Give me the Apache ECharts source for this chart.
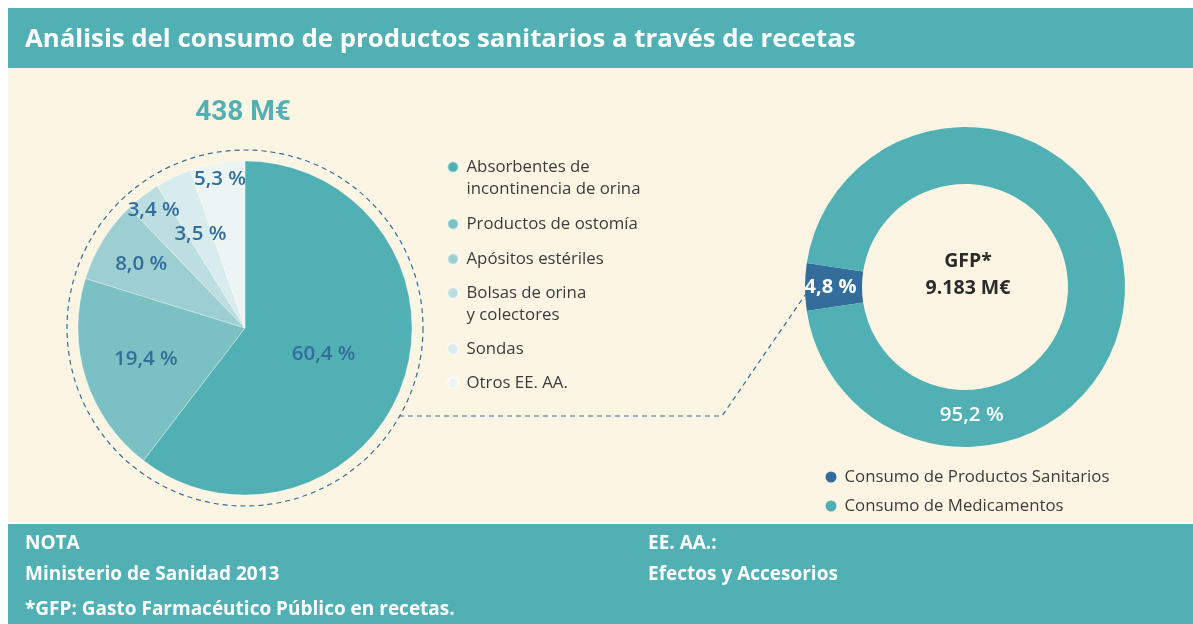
<!DOCTYPE html>
<html>
<head>
<meta charset="utf-8">
<script src="https://cdn.jsdelivr.net/npm/echarts@6/dist/echarts.min.js"></script>
<style>
html,body{margin:0;padding:0;background:#fff;}
#chart{width:1193px;height:624px;}
</style>
</head>
<body>
<div id="chart"></div>
<script>
// ---- DATA ----
const chartTitle = 'Análisis del consumo de productos sanitarios a través de recetas';
const pieCategories = ['Absorbentes de\nincontinencia de orina', 'Productos de ostomía', 'Apósitos estériles', 'Bolsas de orina\ny colectores', 'Sondas', 'Otros EE. AA.'];
const pieValues = [60.4, 19.4, 8.0, 3.4, 3.5, 5.3];
const pieTotal = '438 M€';
const donutCategories = ['Consumo de Productos Sanitarios', 'Consumo de Medicamentos'];
const donutValues = [4.8, 95.2];
const donutCenterLines = ['GFP*', '9.183 M€'];
const notesLeft = ['NOTA', 'Ministerio de Sanidad 2013', '*GFP: Gasto Farmacéutico Público en recetas.'];
const notesRight = ['EE. AA.:', 'Efectos y Accesorios'];

// ---- STYLE / LAYOUT ----
const FONT = '"Open Sans", Roboto, sans-serif';
const FONT2 = 'Roboto, sans-serif';
const TEAL = '#50b0b3';
const DARKBLUE = '#336d9c';
const CREAM = '#fdf5e4';
const pieColors = ['#50b0b3', '#7bc1c3', '#9dcfd2', '#bddee0', '#d8ecee', '#edf5f4'];
const donutColors = [DARKBLUE, TEAL];
const PIE_C = [245, 328], PIE_R = 167, RING_R = 178;
const DON_C = [965, 287], DON_R = [103, 160];
const pieLabelRadius = [80, 101, 119, 146, 101, 148];
const legendRowY = [165, 222, 257, 291, 347, 381];
const fmt = p => p.value.toFixed(1).replace('.', ',') + ' %';
const LBL = 20.5;

const series = [];
series.push({
  type: 'pie', name: 'productos', center: PIE_C, radius: [0, PIE_R],
  startAngle: 90, clockwise: true, silent: true,
  itemStyle: { borderColor: 'rgba(255,255,255,0.5)', borderWidth: 0.6 },
  label: { show: false }, labelLine: { show: false },
  data: pieCategories.map((n, i) => ({ name: n, value: pieValues[i], itemStyle: { color: pieColors[i] } }))
});
series.push({
  type: 'pie', name: 'gfp', center: DON_C, radius: DON_R,
  startAngle: 180 + donutValues[0] / 100 * 360 / 2, clockwise: true, silent: true,
  label: { show: false, position: 'inside', formatter: fmt, color: '#fff', fontSize: 20, fontWeight: 'bold', fontFamily: FONT },
  labelLine: { show: false },
  data: donutCategories.map((n, i) => ({ name: n, value: donutValues[i], itemStyle: { color: donutColors[i] }, label: { show: i === 0 } }))
});
// label rings for the left pie
[...new Set(pieLabelRadius)].forEach(r => {
  series.push({
    type: 'pie', center: PIE_C, radius: [r - 8, r + 8], startAngle: 90, clockwise: true, silent: true,
    itemStyle: { color: 'transparent' }, labelLine: { show: false },
    label: { position: 'inside', formatter: fmt, color: DARKBLUE, fontSize: LBL, fontWeight: 600, fontFamily: FONT },
    data: pieCategories.map((n, i) => ({ name: n, value: pieValues[i], label: { show: pieLabelRadius[i] === r } }))
  });
});
// label for the large donut slice (placed near the bottom)
series.push({
  type: 'pie', center: DON_C, radius: [DON_R[0] - 6, DON_R[1] - 6], startAngle: 93, clockwise: true, silent: true,
  itemStyle: { color: 'transparent' }, labelLine: { show: false },
  label: { show: true, position: 'inside', formatter: fmt, color: '#fff', fontSize: LBL, fontWeight: 600, fontFamily: FONT },
  data: [{ name: donutCategories[1], value: donutValues[1] }]
});

const graphics = [
  { type: 'rect', z: 0, shape: { x: 8, y: 8, width: 1185, height: 60 }, style: { fill: TEAL } },
  { type: 'rect', z: 0, shape: { x: 8, y: 68, width: 1185, height: 454 }, style: { fill: CREAM } },
  { type: 'rect', z: 0, shape: { x: 8, y: 524, width: 1185, height: 100 }, style: { fill: TEAL } },
  { type: 'text', z: 10, x: 25, y: 40, style: { text: chartTitle, fill: '#fff', font: 'bold 25.8px ' + FONT, verticalAlign: 'middle' } },
  { type: 'text', z: 10, x: PIE_C[0] - 2, y: 113, style: { text: pieTotal, fill: TEAL, font: 'bold 28px ' + FONT2, align: 'center', verticalAlign: 'middle' } },
  { type: 'circle', z: 1, shape: { cx: PIE_C[0], cy: PIE_C[1], r: RING_R }, style: { fill: 'none', stroke: DARKBLUE, lineWidth: 1.2, lineDash: [5, 4] } },
  { type: 'polyline', z: 1, shape: { points: [[399, 416], [722, 416], [812, 285]] }, style: { fill: 'none', stroke: DARKBLUE, lineWidth: 1.2, lineDash: [5, 4] } },
  { type: 'text', z: 10, x: DON_C[0] + 3, y: DON_C[1] - 12, style: { text: donutCenterLines.join('\n'), fill: '#2b2b2b', font: 'bold 19.5px ' + FONT, lineHeight: 27, align: 'center', verticalAlign: 'middle' } }
];
notesLeft.forEach((t, i) => graphics.push({ type: 'text', z: 10, x: 25, y: [544, 575, 610][i], style: { text: t, fill: '#fff', font: 'bold 19px ' + FONT, verticalAlign: 'middle' } }));
notesRight.forEach((t, i) => graphics.push({ type: 'text', z: 10, x: 648, y: [544, 575][i], style: { text: t, fill: '#fff', font: 'bold 19px ' + FONT, verticalAlign: 'middle' } }));

const legendBase = {
  orient: 'vertical', padding: 0, icon: 'circle', itemWidth: 17, itemHeight: 11, selectedMode: false
};
const legends = pieCategories.map((n, i) => {
  const multi = n.indexOf('\n') >= 0;
  return Object.assign({}, legendBase, {
    left: 446.5, top: legendRowY[i] - (multi ? 31 : 9),
    formatter: name => multi ? '\n' + name : name,
    textStyle: { color: '#3b3b3b', fontSize: 16.8, lineHeight: 22, fontFamily: FONT },
    data: [{ name: n }]
  });
});
legends.push(Object.assign({}, legendBase, {
  left: 825.5, top: 468, itemGap: 11,
  textStyle: { color: '#3b3b3b', fontSize: 16.8, lineHeight: 18, fontFamily: FONT },
  data: donutCategories.map(n => ({ name: n }))
}));

const chart = echarts.init(document.getElementById('chart'), null, { renderer: 'canvas' });
chart.setOption({
  backgroundColor: '#ffffff',
  animation: false,
  graphic: graphics,
  legend: legends,
  series: series
});
</script>
</body>
</html>
